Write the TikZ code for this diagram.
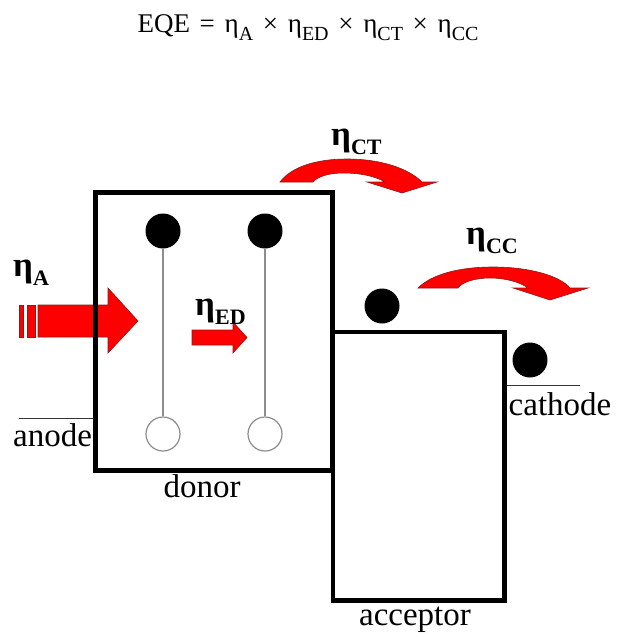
\documentclass[tikz,border=0pt]{standalone}
\usepackage{fontspec}
\setmainfont{Liberation Serif}
\usepackage{tikz}
\usetikzlibrary{positioning, calc, arrows.meta}
\definecolor{Ink}{HTML}{000000}
\definecolor{Flow}{HTML}{FF0000}
\definecolor{FlowEdge}{HTML}{8B1A1A}
\definecolor{Wire}{HTML}{8C8C8C}
\newcommand{\effsym}[1]{η\raisebox{-0.28em}{\fontsize{22}{22}\selectfont #1}}
\newcommand{\eqsym}[1]{η\raisebox{-0.3em}{\fontsize{20}{20}\selectfont #1}}
\newcommand{\eqgap}{\hspace{0.36em}}
\tikzset{
    levelbox/.style={rectangle, draw=Ink, line width=4.5pt, inner sep=0pt},
    electron/.style={circle, fill=Ink, minimum size=35pt, inner sep=0pt},
    hole/.style={circle, draw=Wire, line width=1.2pt, fill=white, minimum size=34pt, inner sep=0pt},
    bond/.style={draw=Wire, line width=1.3pt},
    flow/.style={fill=Flow, draw=FlowEdge, line width=0.6pt, line join=miter},
    effnode/.style={font=\fontsize{35}{38}\selectfont\bfseries, inner sep=0pt, anchor=base west},
    plain/.style={font=\fontsize{33}{38}\selectfont, inner sep=0pt, anchor=base},
    contact/.style={draw=Ink!80, line width=0.9pt},
}
\begin{document}
\begin{tikzpicture}[x=1pt, y=-1pt]
    \useasboundingbox (0,0) rectangle (616,637);
    \node[font=\fontsize{27}{30}\selectfont, inner sep=0pt, anchor=base] (eqe) at (308,32)
        {EQE\eqgap=\eqgap\eqsym{A}\eqgap×\eqgap\eqsym{ED}\eqgap×\eqgap\eqsym{CT}\eqgap×\eqgap\eqsym{CC}};

    % absorption arrow
    \fill[flow] (19.5,305) rectangle (23,337);
    \fill[flow] (27,305) rectangle (35.5,337);
    \filldraw[flow] (38,305) -- (108,305) -- (108,288) -- (138,321) -- (108,353) -- (108,337) -- (38,337) -- cycle;
    \draw[flow] (19.5,305) rectangle (23,337) (27,305) rectangle (35.5,337);

    \node[levelbox, minimum width=237pt, minimum height=278pt] (donor) at (214,331.5) {};
    \node[levelbox, minimum width=171.5pt, minimum height=268.5pt] (acceptor) at (418.75,466.25) {};

    \foreach \c/\x in {1/163,2/265} {
        \node[hole] (bot\c) at (\x,434) {};
        \node[electron] (top\c) at (\x,231) {};
        \draw[bond] (top\c) -- (bot\c);
    }

    \filldraw[flow] (192,330) -- (233,330) -- (233,322) -- (247,337.5) -- (233,353) -- (233,345) -- (192,345) -- cycle;

    \filldraw[flow] (280,182) .. controls (292,166) and (318,159) .. (347,159)
        .. controls (380,159) and (408,168) .. (422,182) -- (437,182) -- (402,193) -- (367,182) -- (385,182)
        .. controls (375,176) and (360,173) .. (343,173) .. controls (330,173) and (318,176) .. (313,182) -- cycle;
    \filldraw[flow] (418,288) .. controls (432,274) and (460,267) .. (493,267)
        .. controls (530,267) and (560,276) .. (570,288) -- (588,288) -- (550,300) -- (513,288) -- (528,288)
        .. controls (520,282) and (505,278) .. (490,278) .. controls (475,278) and (462,282) .. (458,288) -- cycle;

    \node[electron] (acc) at (382,306) {};
    \node[electron] (cat) at (530,360) {};

    \coordinate (anodeL) at (19,418);
    \coordinate (cathodeR) at (580,385);
    \draw[contact] (anodeL) -- (donor.west |- anodeL);
    \draw[contact] (acceptor.east |- cathodeR) -- (cathodeR);

    \node[effnode] (etaA) at (13,276) {\effsym{A}};
    \node[effnode] (etaED) at (195,315) {\effsym{ED}};
    \node[effnode] (etaCT) at (331,145) {\effsym{CT}};
    \node[effnode] (etaCC) at (466,244) {\effsym{CC}};

    \node[plain] (anode) at (52.5,446) {anode};
    \node[plain] (donorlbl) at (202,497) {donor};
    \node[plain] (acceptorlbl) at (415,625) {acceptor};
    \node[plain] (cathode) at (560,415) {cathode};
\end{tikzpicture}
\end{document}
